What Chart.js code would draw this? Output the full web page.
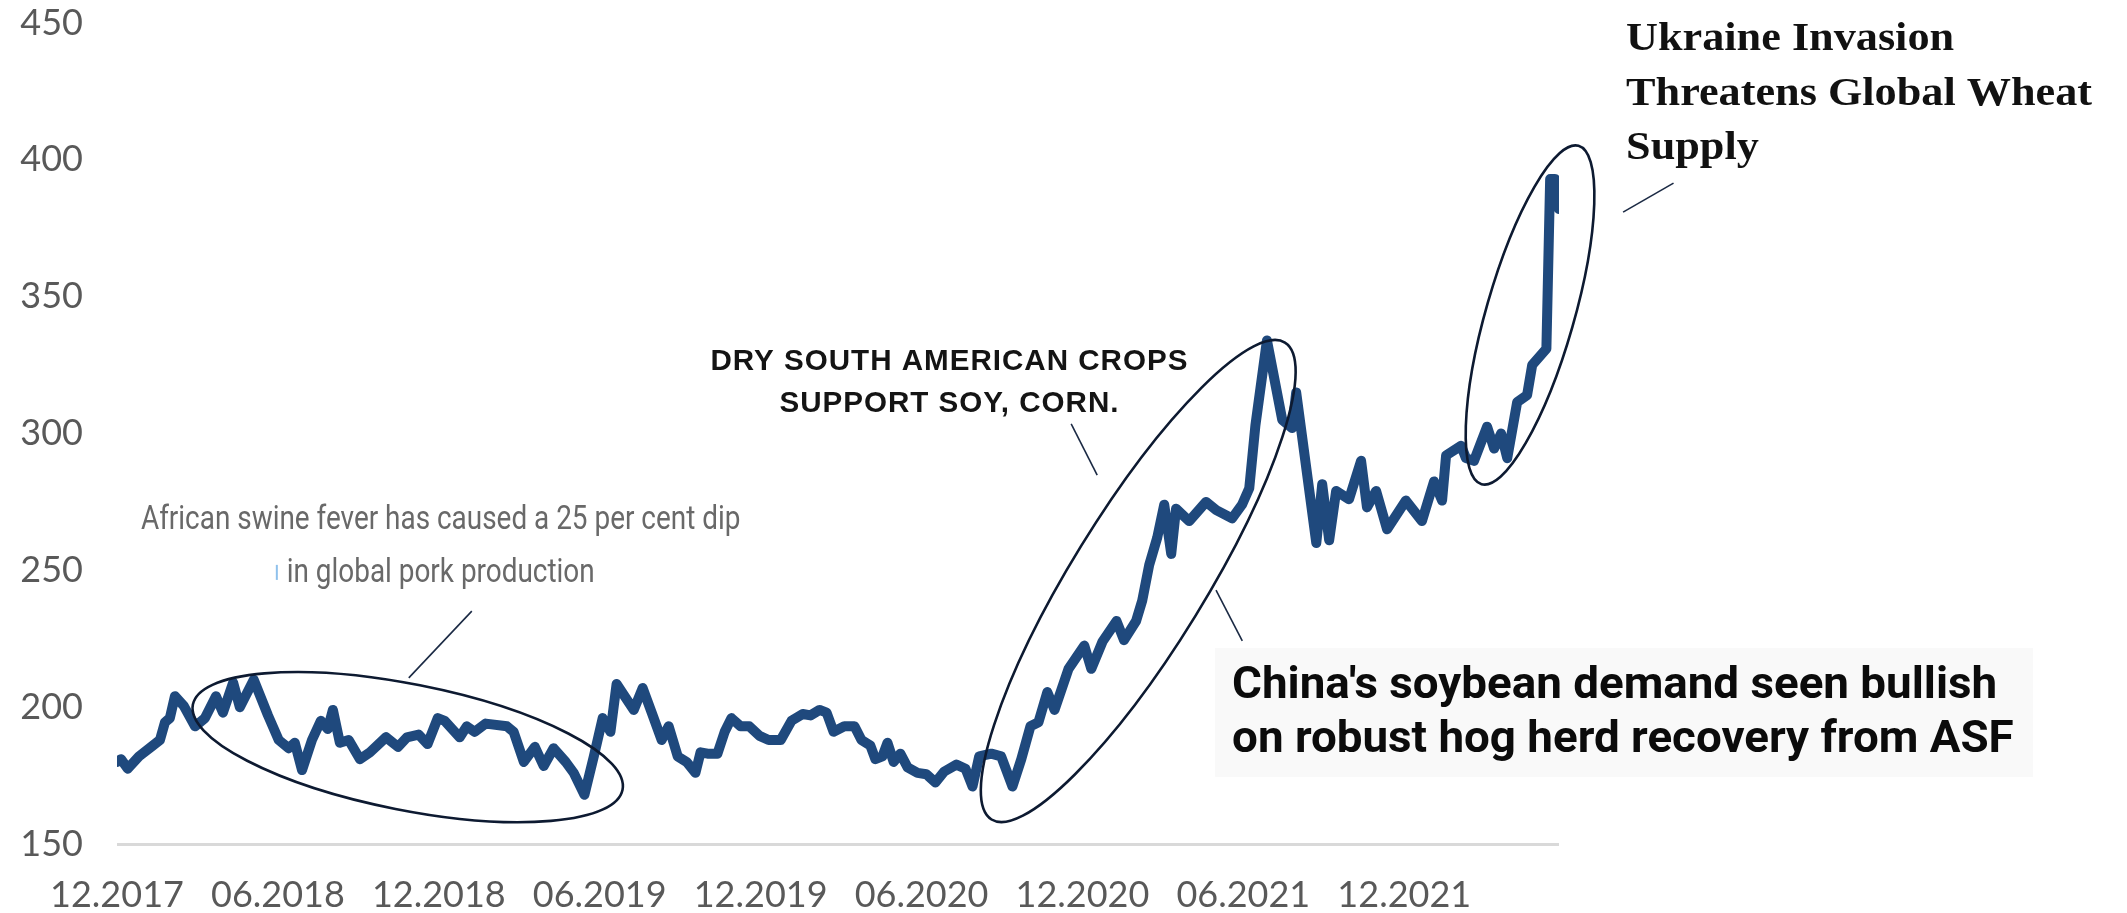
<!DOCTYPE html>
<html>
<head>
<meta charset="utf-8">
<title>Agricultural price index, 2017–2022</title>
<script src="https://cdn.jsdelivr.net/npm/chart.js@4.4.1/dist/chart.umd.min.js"></script>
<style>
  html, body { margin: 0; padding: 0; background: #ffffff; overflow: hidden; }
  #wrap { width: 2127px; height: 913px; position: relative; }
  canvas { display: block; }
</style>
</head>
<body>
<div id="wrap"><canvas id="chart" width="2127" height="913"></canvas></div>
<script>
// Months elapsed since December 2017 for each observation.
const months = [
  0, 0.15, 0.40, 0.82, 1.34, 1.60, 1.79, 1.97, 2.16, 2.49,
  2.91, 3.28, 3.69, 3.95, 4.33, 4.58, 5.10, 5.63, 6.03, 6.40,
  6.63, 6.90, 7.27, 7.60, 7.86, 8.05, 8.31, 8.64, 9.06, 9.43,
  10.03, 10.48, 10.81, 11.25, 11.58, 11.96, 12.22, 12.78, 13.04, 13.34,
  13.75, 14.54, 14.79, 15.17, 15.58, 15.91, 16.28, 16.73, 17.03, 17.43,
  17.78, 18.11, 18.40, 18.63, 18.93, 19.27, 19.60, 19.94, 20.31, 20.57,
  20.91, 21.24, 21.57, 21.76, 22.02, 22.39, 22.66, 22.91, 23.25, 23.58,
  23.96, 24.30, 24.75, 25.15, 25.57, 25.86, 26.20, 26.46, 26.72, 27.12,
  27.50, 27.76, 28.09, 28.28, 28.54, 28.73, 28.96, 29.21, 29.48, 29.85,
  30.18, 30.52, 30.85, 31.30, 31.64, 31.90, 32.15, 32.60, 32.97, 33.39,
  33.72, 34.06, 34.36, 34.69, 34.96, 35.48, 36.07, 36.33, 36.75, 37.27,
  37.55, 38.00, 38.23, 38.49, 38.79, 39.05, 39.31, 39.49, 39.98, 40.61,
  40.99, 41.58, 41.95, 42.22, 42.45, 42.88, 43.45, 43.82, 43.97, 44.72,
  44.94, 45.20, 45.46, 45.94, 46.39, 46.61, 46.95, 47.36, 48.06, 48.66,
  49.11, 49.41, 49.56, 50.12, 50.30, 50.60, 51.09, 51.35, 51.61, 51.84,
  52.21, 52.58, 52.77, 53.30, 53.44, 53.62, 53.69, 53.77
];

// Index level at each observation.
const indexValues = [
  180, 181, 177.5, 182, 186, 188, 194.5, 196, 204, 200.5,
  193, 196, 204, 198, 209, 200, 210, 197, 188, 185,
  187, 177, 188, 195, 192, 199, 187, 188, 181, 183.5,
  189, 185.5, 189, 190, 186.5, 196, 195, 189, 193, 191,
  194, 193, 191, 180, 185.5, 178.5, 185, 180, 176, 168,
  182, 196, 191, 208.5, 204, 199, 207, 198, 188, 193,
  182, 180, 176, 183.5, 183, 183, 191, 196, 193, 193,
  189.5, 188, 188, 195, 197.5, 197, 199, 198, 191, 193,
  193, 188, 186, 181, 182, 187, 180, 183, 178, 176,
  175.5, 172.5, 176.5, 179, 177.5, 171, 182, 183, 182, 171,
  181, 193, 194.5, 205.5, 199, 214, 222.5, 214, 224, 231.5,
  224.5, 231.5, 239, 252, 262, 274, 256, 272.5, 268, 275,
  272, 269, 274, 280, 303, 334, 305, 302, 315, 260,
  281.5, 261, 279, 276, 290, 273, 279, 265, 275.5, 268,
  282.5, 275.5, 292, 295.5, 291, 290, 302.5, 294.5, 300, 291,
  311.5, 314, 325, 331, 393, 393, 389, 382
];

// Half-year date ticks along the time axis.
const xTickMonths = [0, 6, 12, 18, 24, 30, 36, 42, 48];
const xTickLabels = ['12.2017', '06.2018', '12.2018', '06.2019', '12.2019',
                     '06.2020', '12.2020', '06.2021', '12.2021'];

// Value axis.
const yMin = 150;
const yMax = 450;
const yStep = 50;

// Story callouts, anchored in (month, index) coordinates.
const ovals = [
  { at: [10.84, 185.4], rx: 219, ry: 63, tilt: 11.2 },
  { at: [38.08, 246.1], rx: 280, ry: 67, tilt: -58.4 },
  { at: [52.69, 343.3], rx: 176, ry: 44, tilt: -74 }
];

const leaders = [
  { from: [10.88, 210.7], to: [13.23, 235.1] },
  { from: [35.58, 303.5], to: [36.55, 284.8] },
  { from: [40.98, 242.8], to: [41.96, 224.2] },
  { from: [56.16, 380.9], to: [58.04, 391.5] }
];

const captions = [
  {
    lines: ['African swine fever has caused a 25 per cent dip', 'in global pork production'],
    at: [12.07, 265.1], lineGap: 53, align: 'center',
    font: '34px Roboto', color: '#696969', fit: { line: 1, width: 308 }
  },
  {
    lines: ['DRY SOUTH AMERICAN CROPS', 'SUPPORT SOY, CORN.'],
    at: [31.04, 323.2], lineGap: 42, align: 'center',
    font: 'bold 30px "Liberation Sans"', spacing: '1px', color: '#141414',
    fit: { line: 0, width: 478 }
  },
  {
    lines: ["China's soybean demand seen bullish", 'on robust hog herd recovery from ASF'],
    at: [41.58, 203.4], lineGap: 54, align: 'left',
    font: 'bold 45px Roboto', color: '#0b0b0b', fit: { line: 0, width: 765 },
    box: { dx: -17, dy: -50, w: 818, h: 129, color: '#f9f9f9' }
  },
  {
    lines: ['Ukraine Invasion', 'Threatens Global Wheat', 'Supply'],
    at: [56.27, 440.1], lineGap: 54.5, align: 'left',
    font: 'bold 40px "Liberation Serif"', color: '#111111', fit: { line: 1, width: 466 }
  }
];

// A small pale-blue tick sitting in front of the pork caption.
const strayTick = { at: [5.96, 252.0], to: 246.5, color: '#8fc1ec' };

const calloutPlugin = {
  id: 'callouts',
  afterDraw(chart) {
    const ctx = chart.ctx;
    const xs = chart.scales.x;
    const ys = chart.scales.y;
    const px = m => xs.getPixelForValue(m);
    const py = v => ys.getPixelForValue(v);

    ctx.save();
    // ellipses around the highlighted episodes
    ctx.strokeStyle = '#0d1a31';
    ctx.lineWidth = 2.6;
    ovals.forEach(o => {
      ctx.beginPath();
      ctx.ellipse(px(o.at[0]), py(o.at[1]), o.rx, o.ry, o.tilt * Math.PI / 180, 0, Math.PI * 2);
      ctx.stroke();
    });

    // thin leader lines from captions to the ellipses
    ctx.strokeStyle = '#1b2a44';
    ctx.lineWidth = 1.6;
    leaders.forEach(l => {
      ctx.beginPath();
      ctx.moveTo(px(l.from[0]), py(l.from[1]));
      ctx.lineTo(px(l.to[0]), py(l.to[1]));
      ctx.stroke();
    });

    // stray tick mark
    ctx.strokeStyle = strayTick.color;
    ctx.lineWidth = 2;
    ctx.beginPath();
    ctx.moveTo(px(strayTick.at[0]), py(strayTick.at[1]));
    ctx.lineTo(px(strayTick.at[0]), py(strayTick.to));
    ctx.stroke();

    // captions
    captions.forEach(c => {
      ctx.save();
      ctx.font = c.font;
      ctx.letterSpacing = c.spacing || '0px';
      ctx.textAlign = c.align;
      ctx.textBaseline = 'alphabetic';
      const sx = c.fit ? c.fit.width / ctx.measureText(c.lines[c.fit.line]).width : 1;
      const x0 = px(c.at[0]);
      const y0 = py(c.at[1]);
      if (c.box) {
        ctx.fillStyle = c.box.color;
        ctx.fillRect(x0 + c.box.dx, y0 + c.box.dy, c.box.w, c.box.h);
      }
      ctx.fillStyle = c.color;
      c.lines.forEach((line, i) => {
        ctx.save();
        ctx.translate(x0, y0 + i * c.lineGap);
        ctx.scale(sx, 1);
        ctx.fillText(line, 0, 0);
        ctx.restore();
      });
      ctx.restore();
    });
    ctx.restore();
  }
};

const tickFont = { family: 'Lato', size: 36 };

new Chart(document.getElementById('chart'), {
  type: 'line',
  data: {
    datasets: [{
      label: 'Index',
      data: months.map((m, i) => ({ x: m, y: indexValues[i] })),
      borderColor: '#1f497d',
      backgroundColor: '#1f497d',
      borderWidth: 10,
      borderJoinStyle: 'round',
      borderCapStyle: 'round',
      pointRadius: 0,
      tension: 0,
      fill: false
    }]
  },
  options: {
    responsive: false,
    devicePixelRatio: 1,
    animation: false,
    layout: { padding: { top: 23, right: 568, bottom: 0, left: 0 } },
    plugins: { legend: { display: false }, tooltip: { enabled: false } },
    scales: {
      x: {
        type: 'linear',
        min: 0,
        max: months[months.length - 1],
        border: { display: false },
        grid: { display: false, drawTicks: false },
        afterBuildTicks: scale => { scale.ticks = xTickMonths.map(v => ({ value: v })); },
        afterFit: scale => {
          scale.height = 69;
          scale.paddingLeft = 0;
          scale.paddingRight = 0;
        },
        ticks: {
          autoSkip: false,
          maxRotation: 0,
          padding: 30,
          color: '#595959',
          font: tickFont,
          callback: (value) => xTickLabels[xTickMonths.indexOf(value)]
        }
      },
      y: {
        min: yMin,
        max: yMax,
        border: { display: false },
        grid: {
          drawTicks: false,
          lineWidth: 3,
          color: ctx => (ctx.tick && ctx.tick.value === yMin ? '#d9d9d9' : 'rgba(0,0,0,0)')
        },
        afterFit: scale => {
          scale.width = 117;
          scale.paddingTop = 0;
          scale.paddingBottom = 0;
        },
        ticks: {
          stepSize: yStep,
          padding: 34,
          color: '#595959',
          font: tickFont
        }
      }
    }
  },
  plugins: [calloutPlugin]
});
</script>
</body>
</html>
